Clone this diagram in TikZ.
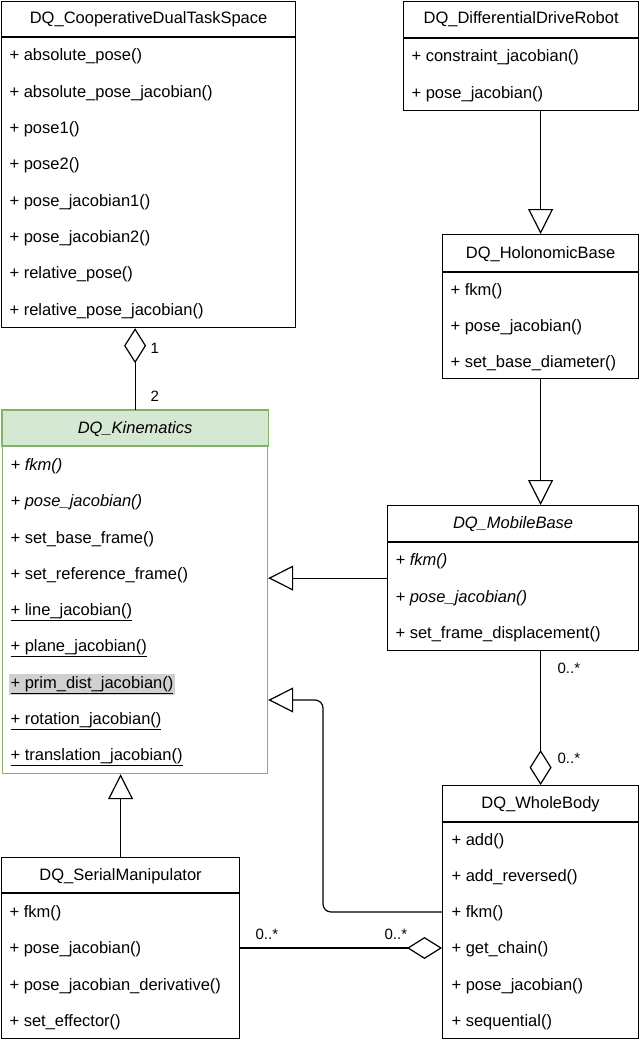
\documentclass[tikz,border=0pt]{standalone}
\usepackage{fontspec}
\setmainfont{Liberation Sans}
\usetikzlibrary{arrows.meta}
\definecolor{kgreen}{HTML}{82B366}
\definecolor{kfill}{HTML}{D5E8D4}
\definecolor{hl}{HTML}{D0D0D0}
\newcommand\fs{\fontsize{16.5}{19}\selectfont}
\newcommand\fl{\fontsize{15}{18}\selectfont}
\begin{document}
\begin{tikzpicture}[x=1pt,y=-1pt, line width=1.2pt,
 box/.style={draw, inner sep=0pt, anchor=north west, fill=white},
 ttl/.style={font=\fs, anchor=base, inner sep=0pt},
 row/.style={font=\fs, anchor=base west, inner sep=0pt},
 lbl/.style={font=\fl, anchor=base west, inner sep=0pt},
 gen/.style={-{Triangle[length=25pt,width=25pt,fill=white]}},
 agg/.style={-{Diamond[length=35pt,width=22pt,fill=white]}},
]
\useasboundingbox[fill=white] (0,0) rectangle (640,1041);

% ---------- DQ_CooperativeDualTaskSpace
\node[box, minimum width=294pt, minimum height=326pt] (cdts) at (1,1) {};
\draw (cdts.west |- 0,37) -- (cdts.east |- 0,37);
\node[ttl] (cdtst) at (cdts.north |- 0,24) {DQ\_CooperativeDualTaskSpace};
\node[row] (cdts1) at (9,61) {+ absolute\_pose()};
\node[row] (cdts2) at (9,97.3) {+ absolute\_pose\_jacobian()};
\node[row] (cdts3) at (9,133.6) {+ pose1()};
\node[row] (cdts4) at (9,169.9) {+ pose2()};
\node[row] (cdts5) at (9,206.2) {+ pose\_jacobian1()};
\node[row] (cdts6) at (9,242.5) {+ pose\_jacobian2()};
\node[row] (cdts7) at (9,278.8) {+ relative\_pose()};
\node[row] (cdts8) at (9,315.1) {+ relative\_pose\_jacobian()};

% ---------- DQ_DifferentialDriveRobot
\node[box, minimum width=235pt, minimum height=109pt] (ddr) at (403,1) {};
\draw (ddr.west |- 0,38) -- (ddr.east |- 0,38);
\node[ttl] (ddrt) at (ddr.north |- 0,24) {DQ\_DifferentialDriveRobot};
\node[row] (ddr1) at (411,62) {+ constraint\_jacobian()};
\node[row] (ddr2) at (411,98) {+ pose\_jacobian()};

% ---------- DQ_HolonomicBase
\node[box, minimum width=196pt, minimum height=144pt] (holo) at (442,234) {};
\draw (holo.west |- 0,272) -- (holo.east |- 0,272);
\node[ttl] (holot) at (holo.north |- 0,258) {DQ\_HolonomicBase};
\node[row] (holo1) at (450,295) {+ fkm()};
\node[row] (holo2) at (450,331) {+ pose\_jacobian()};
\node[row] (holo3) at (450,367) {+ set\_base\_diameter()};

% ---------- DQ_MobileBase
\node[box, minimum width=251pt, minimum height=145pt] (mb) at (387,505) {};
\draw (mb.west |- 0,542) -- (mb.east |- 0,542);
\node[ttl, font=\fs\itshape] (mbt) at (mb.north |- 0,528) {DQ\_MobileBase};
\node[row, font=\fs\itshape] (mb1) at (395,565) {+ fkm()};
\node[row, font=\fs\itshape] (mb2) at (395,602) {+ pose\_jacobian()};
\node[row] (mb3) at (395,638) {+ set\_frame\_displacement()};

% ---------- DQ_Kinematics
\node[box, draw=kgreen, minimum width=265pt, minimum height=363pt] (kin) at (2,410) {};
\draw[kgreen, fill=kfill] (kin.north west) rectangle (kin.east |- 0,446);
\node[ttl, font=\fs\itshape] (kint) at (kin.north |- 0,433) {DQ\_Kinematics};
\node[row, font=\fs\itshape] (kin1) at (10,470) {+ fkm()};
\node[row, font=\fs\itshape] (kin2) at (10,506) {+ pose\_jacobian()};
\node[row] (kin3) at (10,543) {+ set\_base\_frame()};
\node[row] (kin4) at (10,579) {+ set\_reference\_frame()};
\node[row] (kin5) at (10,615) {\underline{+ line\_jacobian()}};
\node[row] (kin6) at (10,651) {\underline{+ plane\_jacobian()}};
\node[row, fill=hl, inner xsep=2pt, inner ysep=2pt] (kin7) at (8,688) {\underline{+ prim\_dist\_jacobian()}};
\node[row] (kin8) at (10,724) {\underline{+ rotation\_jacobian()}};
\node[row] (kin9) at (10,760) {\underline{+ translation\_jacobian()}};

% ---------- DQ_WholeBody
\node[box, minimum width=196pt, minimum height=253pt] (wb) at (442,785) {};
\draw (wb.west |- 0,822) -- (wb.east |- 0,822);
\node[ttl] (wbt) at (wb.north |- 0,808) {DQ\_WholeBody};
\node[row] (wb1) at (451,845) {+ add()};
\node[row] (wb2) at (451,881) {+ add\_reversed()};
\node[row] (wb3) at (451,917) {+ fkm()};
\node[row] (wb4) at (451,953) {+ get\_chain()};
\node[row] (wb5) at (451,990) {+ pose\_jacobian()};
\node[row] (wb6) at (451,1026) {+ sequential()};

% ---------- DQ_SerialManipulator
\node[box, minimum width=238pt, minimum height=181pt] (sm) at (1,857) {};
\draw (sm.west |- 0,893) -- (sm.east |- 0,893);
\node[ttl] (smt) at (sm.north |- 0,880) {DQ\_SerialManipulator};
\node[row] (sm1) at (9,917) {+ fkm()};
\node[row] (sm2) at (9,953) {+ pose\_jacobian()};
\node[row] (sm3) at (9,990) {+ pose\_jacobian\_derivative()};
\node[row] (sm4) at (9,1026) {+ set\_effector()};

% ---------- connectors
\draw[agg] (kin.north) -- (kin.north |- cdts.south);
\draw[gen] (ddr.south -| holo.north) -- (holo.north);
\draw[gen] (holo.south) -- (holo.south |- mb.north);
\draw[gen] (mb.west) -- (mb.west -| kin.east);
\draw[agg] (mb.south -| wb.north) -- (wb.north);
\draw[gen] (sm.north) -- (sm.north |- kin.south);
\coordinate (wbk1) at (323,912);
\coordinate (wbk2) at (323,700);
\draw[gen, rounded corners=8pt] (wb.west |- wbk1) -- (wbk1) -- (wbk2) -- (wbk2 -| kin.east);
\coordinate (smwb) at (0,948);
\draw[agg] (sm.east |- smwb) -- (wb.west |- smwb);

% ---------- multiplicities
\node[lbl] (m1) at (150,353) {1};
\node[lbl] (m2) at (150,401) {2};
\node[lbl] (m3) at (557,673) {0..*};
\node[lbl] (m4) at (557,763) {0..*};
\node[lbl] (m5) at (255,939) {0..*};
\node[lbl] (m6) at (384,939) {0..*};
\end{tikzpicture}
\end{document}
